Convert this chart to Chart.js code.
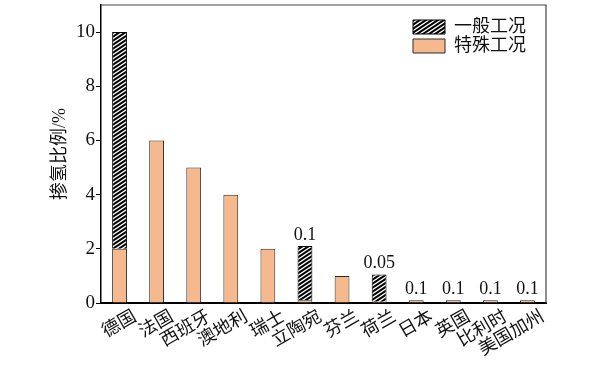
<!DOCTYPE html>
<html>
<head>
<meta charset="utf-8">
<script src="https://cdn.jsdelivr.net/npm/chart.js@4/dist/chart.umd.min.js"></script>
<style>
    body { margin: 0; background: #fff; }
</style>
</head>
<body>
<canvas id="myChart" width="600" height="374"></canvas>
<script>
// categories and values
const countries = ['德国', '法国', '西班牙', '澳地利', '瑞士', '立陶宛', '芬兰', '荷兰', '日本', '英国', '比利时', '美国加州'];
const specialCase = [2, 6, 5, 4, 2, 0.1, 1, 0.05, 0.1, 0.1, 0.1, 0.1];
const generalCase = [8, null, null, null, null, 2, null, 1, null, null, null, null];
const yTicks = [0, 2, 4, 6, 8, 10];

const serif = '"Liberation Serif", "Noto Sans CJK SC", serif';
const cjk = '"Noto Sans CJK SC", sans-serif';

function makeHatch() {
    let c = document.createElement('canvas');
    c.width = 6;
    c.height = 4;
    let g = c.getContext('2d');
    g.fillStyle = '#fff';
    g.fillRect(0, 0, 6, 4);
    g.strokeStyle = '#000';
    g.lineWidth = 2;
    g.beginPath();
    g.moveTo(-1.5, 5); g.lineTo(7.5, -1);
    g.moveTo(-7.5, 5); g.lineTo(1.5, -1);
    g.moveTo(4.5, 5); g.lineTo(13.5, -1);
    g.stroke();
    return g.createPattern(c, 'repeat');
}

// top + right frame of the plot box
const frame = {
    id: 'frame',
    afterDraw(chart) {
        let a = chart.chartArea, ctx = chart.ctx;
        ctx.save();
        ctx.strokeStyle = '#444';
        ctx.lineWidth = 1.2;
        ctx.beginPath();
        ctx.moveTo(a.left, a.top);
        ctx.lineTo(a.right, a.top);
        ctx.lineTo(a.right, a.bottom);
        ctx.stroke();
        ctx.restore();
    }
};

// rotated category labels under the axis
const xLabels = {
    id: 'xLabels',
    afterDraw(chart) {
        let ctx = chart.ctx, xs = chart.scales.x, bottom = chart.chartArea.bottom;
        ctx.save();
        ctx.font = '18px ' + cjk;
        ctx.fillStyle = '#111';
        ctx.textAlign = 'right';
        ctx.textBaseline = 'top';
        countries.forEach((name, i) => {
            ctx.save();
            ctx.translate(xs.getPixelForValue(i) + 10, bottom + 3);
            ctx.rotate(-Math.PI / 6);
            ctx.fillText(name, 0, 0);
            ctx.restore();
        });
        ctx.restore();
    }
};

// small special-case values written above their stacks
const valueLabels = {
    id: 'valueLabels',
    afterDatasetsDraw(chart) {
        let ctx = chart.ctx, xs = chart.scales.x, ys = chart.scales.y;
        ctx.save();
        ctx.font = '18px ' + serif;
        ctx.fillStyle = '#111';
        ctx.textAlign = 'center';
        ctx.textBaseline = 'bottom';
        specialCase.forEach((v, i) => {
            if (v >= 1) return;
            let top = v + (generalCase[i] || 0);
            ctx.fillText(String(v), xs.getPixelForValue(i), ys.getPixelForValue(top) - 2);
        });
        ctx.restore();
    }
};

// move the legend into the upper right corner of the plot
const legendSpot = {
    id: 'legendSpot',
    afterLayout(chart) {
        let lg = chart.legend;
        if (!lg) return;
        lg.left = 412;
        lg.top = 17;
        lg.right = lg.left + lg.width;
        lg.bottom = lg.top + lg.height;
    }
};

let data = {
    labels: countries,
    datasets: [{
        label: '特殊工况',
        data: specialCase,
        backgroundColor: '#F6B98D',
        borderColor: '#2a2a2a',
        borderWidth: 1,
        barPercentage: 0.4,
        categoryPercentage: 1
    }, {
        label: '一般工况',
        data: generalCase,
        backgroundColor: makeHatch(),
        borderColor: '#000',
        borderWidth: 1,
        barPercentage: 0.4,
        categoryPercentage: 1
    }]
};

let config = {
    type: 'bar',
    data,
    options: {
        responsive: false,
        animation: false,
        devicePixelRatio: 1,
        layout: { padding: { left: 0, right: 54, top: 5, bottom: 0 } },
        plugins: {
            tooltip: { enabled: false },
            legend: {
                position: 'chartArea',
                align: 'start',
                reverse: true,
                labels: {
                    boxWidth: 32,
                    boxHeight: 14,
                    padding: 1,
                    color: '#111',
                    font: { family: serif, size: 18 }
                }
            }
        },
        scales: {
            x: {
                stacked: true,
                grid: { display: false },
                border: { color: '#000', width: 2 },
                ticks: { display: false },
                afterFit(scale) { scale.height = 71; }
            },
            y: {
                stacked: true,
                min: 0,
                max: 11,
                afterBuildTicks(scale) {
                    scale.ticks = yTicks.map(v => ({ value: v }));
                },
                ticks: {
                    color: '#111',
                    padding: 1,
                    font: { family: serif, size: 19 }
                },
                grid: {
                    drawOnChartArea: false,
                    drawTicks: true,
                    tickLength: 5,
                    color: '#000'
                },
                border: { color: '#000', width: 1.5 },
                title: {
                    display: true,
                    text: '掺氢比例/%',
                    color: '#111',
                    font: { family: serif, size: 18 },
                    padding: { top: 49, bottom: 0 }
                },
                afterFit(scale) {
                    scale.width = 101;
                    scale.paddingTop = 0;
                    scale.paddingBottom = 0;
                }
            }
        }
    },
    plugins: [frame, xLabels, valueLabels, legendSpot]
};

let myChart = new Chart(document.getElementById('myChart'), config);
</script>
</body>
</html>
